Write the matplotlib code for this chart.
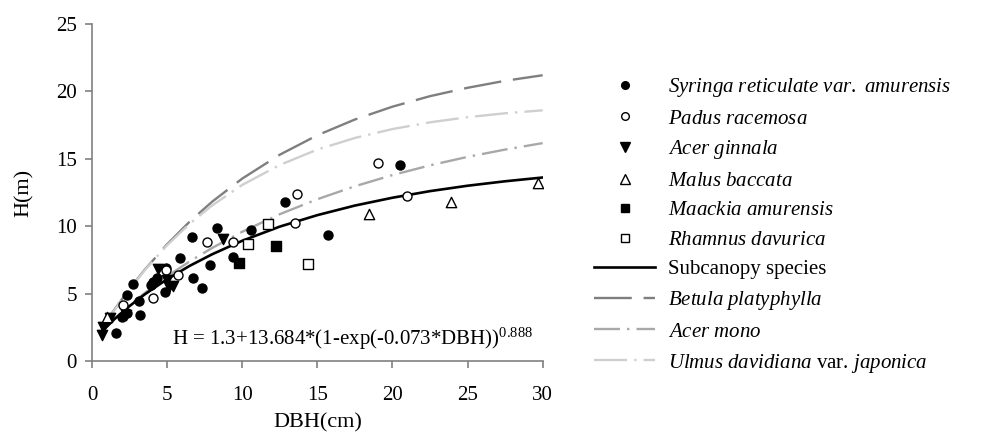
import matplotlib
matplotlib.use('Agg')
import matplotlib.pyplot as plt
from matplotlib.lines import Line2D

plt.rcParams['font.family'] = ['Liberation Serif', 'DejaVu Serif']
plt.rcParams['mathtext.fontset'] = 'custom'
plt.rcParams['mathtext.rm'] = 'Liberation Serif'
plt.rcParams['mathtext.it'] = 'Liberation Serif:italic'

# observed trees (DBH cm, H m)
syringa_dbh = [1.6, 1.98, 2.3, 2.3, 2.71, 3.2, 3.15, 3.9, 4.08, 4.3, 4.86, 4.9, 5.86,
               6.64, 6.75, 7.34, 7.86, 8.3, 9.37, 10.56, 12.85, 15.73, 20.5]
syringa_h = [2.1, 3.3, 3.56, 4.9, 5.7, 3.4, 4.5, 5.66, 5.9, 6.2, 5.16, 6.9, 7.63,
             9.24, 6.2, 5.41, 7.14, 9.86, 7.75, 9.73, 11.83, 9.36, 14.55]
padus_dbh = [2.08, 4.04, 4.9, 5.75, 7.63, 9.37, 13.5, 13.63, 19.06, 21.0]
padus_h = [4.17, 4.67, 6.77, 6.4, 8.87, 8.87, 10.23, 12.4, 14.68, 12.28]
ginnala_dbh = [0.65, 0.75, 1.2, 2.26, 4.41, 4.97, 5.1, 5.41, 8.74]
ginnala_h = [1.95, 2.56, 3.19, 3.43, 6.82, 6.03, 5.5, 5.6, 9.04]
malus_dbh = [1.0, 18.44, 23.9, 29.67]
malus_h = [3.3, 10.9, 11.79, 13.2]
maackia_dbh = [9.79, 12.23]
maackia_h = [7.26, 8.57]
rhamnus_dbh = [10.41, 11.7, 14.4]
rhamnus_h = [8.67, 10.15, 7.21]

# fitted curves
curve_dbh = [0.7, 1.5, 2.5, 3.5, 5, 6.5, 8, 10, 12.5, 15, 17.5, 20, 22.5, 25, 27.5, 30]
subcanopy_h = [2.25, 3.13, 4.09, 4.95, 6.08, 7.07, 7.93, 8.93, 9.98, 10.83, 11.54,
               12.12, 12.61, 13.01, 13.34, 13.62]
betula_h = [2.53, 3.84, 5.37, 6.77, 8.67, 10.35, 11.83, 13.54, 15.31, 16.75, 17.92,
            18.87, 19.65, 20.27, 20.79, 21.2]
acer_mono_h = [2.24, 3.14, 4.14, 5.05, 6.29, 7.40, 8.40, 9.60, 10.90, 12.01, 12.97,
               13.80, 14.52, 15.15, 15.69, 16.17]
ulmus_h = [2.47, 3.79, 5.33, 6.73, 8.60, 10.19, 11.55, 13.07, 14.55, 15.69, 16.55,
           17.21, 17.71, 18.09, 18.38, 18.60]

fig = plt.figure(figsize=(9.84, 4.4), dpi=100)
ax = fig.add_axes([0.0935, 0.179, 0.458, 0.7665])

ax.plot(curve_dbh, betula_h, color='#7f7f7f', lw=1.7, ls=(0, (16, 5)), zorder=2)
ax.plot(curve_dbh, ulmus_h, color='#cfcfcf', lw=1.7, ls=(0, (14, 3, 1, 3)), zorder=2)
ax.plot(curve_dbh, acer_mono_h, color='#a8a8a8', lw=1.7, ls=(0, (11, 3, 1, 3)), zorder=2)
ax.plot(curve_dbh, subcanopy_h, color='black', lw=1.9, zorder=3)

ms = 42
ax.scatter(syringa_dbh, syringa_h, s=ms, c='black', marker='o', zorder=4)
ax.scatter(padus_dbh, padus_h, s=ms, facecolors='white', edgecolors='black',
           linewidths=1, marker='o', zorder=4)
ax.scatter(ginnala_dbh, ginnala_h, s=55, c='black', marker='v', zorder=4)
ax.scatter(malus_dbh, malus_h, s=55, facecolors='white', edgecolors='black',
           linewidths=1, marker='^', zorder=4)
ax.scatter(maackia_dbh, maackia_h, s=45, c='black', marker='s', zorder=4)
ax.scatter(rhamnus_dbh, rhamnus_h, s=45, facecolors='white', edgecolors='black',
           linewidths=1, marker='s', zorder=4)

ax.text(5.3, 1.2, r'H = 1.3+13.684*(1-exp(-0.073*DBH))$^{0.888}$', fontsize=15)

ax.set_xlim(0, 30)
ax.set_ylim(0, 25)
ax.set_xticks(range(0, 31, 5))
ax.set_yticks(range(0, 26, 5))
for s in ['top', 'right']:
    ax.spines[s].set_visible(False)
for s in ['left', 'bottom']:
    ax.spines[s].set_color('#808080')
    ax.spines[s].set_linewidth(1.2)
ax.tick_params(axis='both', colors='#808080', labelcolor='black', labelsize=15,
               length=5, width=1.2, direction='out')
ax.tick_params(axis='x', pad=13)
ax.tick_params(axis='y', pad=6)
ax.set_xlabel('DBH(cm)', fontsize=16, labelpad=6)
ax.set_ylabel('H(m)', fontsize=16, labelpad=16)

handles = [
    Line2D([], [], ls='none', marker='o', color='black', ms=5.5),
    Line2D([], [], ls='none', marker='o', mfc='white', mec='black', ms=5.5),
    Line2D([], [], ls='none', marker='v', color='black', ms=6.5),
    Line2D([], [], ls='none', marker='^', mfc='white', mec='black', ms=6.5),
    Line2D([], [], ls='none', marker='s', color='black', ms=5.5),
    Line2D([], [], ls='none', marker='s', mfc='white', mec='black', ms=5.5),
    Line2D([], [], color='black', lw=1.9),
    Line2D([], [], color='#7f7f7f', lw=1.7, ls=(0, (16, 5))),
    Line2D([], [], color='#a8a8a8', lw=1.7, ls=(0, (11, 3, 1, 3))),
    Line2D([], [], color='#cfcfcf', lw=1.7, ls=(0, (14, 3, 1, 3))),
]
labels = [
    r'$\it{Syringa\ reticulate\ var.\ amurensis}$',
    r'$\it{Padus\ racemosa}$',
    r'$\it{Acer\ ginnala}$',
    r'$\it{Malus\ baccata}$',
    r'$\it{Maackia\ amurensis}$',
    r'$\it{Rhamnus\ davurica}$',
    'Subcanopy species',
    r'$\it{Betula\ platyphylla}$',
    r'$\it{Acer\ mono}$',
    r'$\it{Ulmus\ davidiana}$ var. $\it{japonica}$',
]
leg = fig.legend(handles, labels, loc='upper left', bbox_to_anchor=(0.595, 0.846),
                 frameon=False, fontsize=15, handlelength=2.95, handletextpad=0.6,
                 labelspacing=0.475, borderaxespad=0)

fig.savefig('out.png', dpi=100)
